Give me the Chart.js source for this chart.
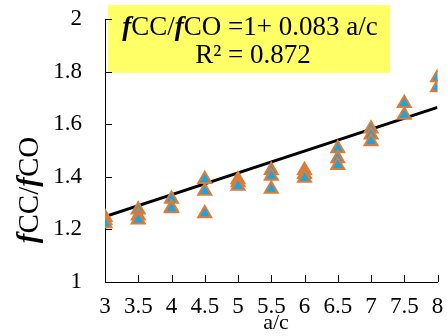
<!DOCTYPE html>
<html>
<head>
<meta charset="utf-8">
<script src="https://cdn.jsdelivr.net/npm/chart.js@4"></script>
<style>
  html, body { margin: 0; padding: 0; background: #fff; }
  #wrap { width: 447px; height: 336px; position: relative; }
</style>
</head>
<body>
<div id="wrap"><canvas id="scatterChart"></canvas></div>
<script>
//fCC/fCO vs a/c scatter with linear trend

// measured points (a/c, fCC/fCO)
const acValues = [
  3, 3, 3,
  3.5, 3.5, 3.5,
  4, 4, 4,
  4.5, 4.5, 4.5,
  5, 5, 5,
  5.5, 5.5, 5.5,
  6, 6, 6,
  6.5, 6.5, 6.5,
  7, 7, 7,
  7.5, 7.5,
  8, 8,
];
const ratioValues = [
  1.246, 1.234, 1.222,
  1.275, 1.252, 1.237,
  1.316, 1.283, 1.279,
  1.391, 1.346, 1.26,
  1.39, 1.378, 1.365,
  1.425, 1.403, 1.354,
  1.425, 1.41, 1.395,
  1.508, 1.47, 1.444,
  1.583, 1.56, 1.534,
  1.68, 1.635,
  1.778, 1.74,
];

// trend line end points
const trendX = [3, 8];
const trendY = [1.249, 1.664];

const xTicks = [3, 3.5, 4, 4.5, 5, 5.5, 6, 6.5, 7, 7.5, 8];
const yTicks = [1, 1.2, 1.4, 1.6, 1.8, 2];

const serif = "Liberation Serif";

// points for chart.js
const points = acValues.map((x, i) => ({ x: x, y: ratioValues[i] }));
const trend = trendX.map((x, i) => ({ x: x, y: trendY[i] }));

// writes "fCC/fCO" with bold italic f
function drawRatioText(ctx, x, y, size, rest) {
  const parts = [
    { t: "f", f: "italic bold " + size + "px " + serif },
    { t: "CC/", f: size + "px " + serif },
    { t: "f", f: "italic bold " + size + "px " + serif },
    { t: "CO" + rest, f: size + "px " + serif },
  ];
  let total = 0;
  parts.forEach((p) => {
    ctx.font = p.f;
    p.w = ctx.measureText(p.t).width;
    total += p.w;
  });
  let cx = x - total / 2;
  ctx.textAlign = "left";
  parts.forEach((p) => {
    ctx.font = p.f;
    ctx.fillText(p.t, cx, y);
    cx += p.w;
  });
}

const extras = {
  id: "extras",
  beforeDatasetsDraw(chart) {
    const ctx = chart.ctx;
    ctx.save();
    // equation box
    ctx.fillStyle = "#FFFF66";
    ctx.fillRect(108, 5, 282, 68);
    ctx.fillStyle = "#000";
    ctx.textBaseline = "middle";
    drawRatioText(ctx, 250, 28, 27, " =1+ 0.083 a/c");
    ctx.font = "27px " + serif;
    ctx.textAlign = "center";
    ctx.fillText("R\u00B2 = 0.872", 253, 56);
    ctx.restore();
  },
  afterDraw(chart) {
    const ctx = chart.ctx;
    const xs = chart.scales.x;
    const ys = chart.scales.y;
    ctx.save();
    // inward tick marks
    ctx.strokeStyle = "#000";
    ctx.lineWidth = 1;
    ctx.beginPath();
    xs.ticks.forEach((t) => {
      const px = Math.round(xs.getPixelForValue(t.value)) + 0.5;
      ctx.moveTo(px, ys.bottom);
      ctx.lineTo(px, ys.bottom - 7);
    });
    ys.ticks.forEach((t) => {
      const py = Math.round(ys.getPixelForValue(t.value)) + 0.5;
      ctx.moveTo(xs.left, py);
      ctx.lineTo(xs.left + 7, py);
    });
    ctx.stroke();
    // axis titles
    ctx.fillStyle = "#000";
    ctx.textBaseline = "middle";
    ctx.font = "22px " + serif;
    ctx.textAlign = "center";
    ctx.fillText("a/c", 276, 323);
    ctx.translate(30, 190);
    ctx.rotate(-Math.PI / 2);
    drawRatioText(ctx, 0, 0, 29, "");
    ctx.restore();
  },
};

const data = {
  datasets: [
    {
      type: "line",
      label: "Trend",
      data: trend,
      borderColor: "#000",
      borderWidth: 3,
      pointRadius: 0,
      fill: false,
      order: 2,
    },
    {
      type: "scatter",
      label: "fCC/fCO",
      data: points,
      pointStyle: "triangle",
      pointRadius: 7.5,
      backgroundColor: "#17A6E2",
      borderColor: "#E07B36",
      borderWidth: 2,
      order: 1,
    },
  ],
};

const config = {
  type: "scatter",
  data: data,
  options: {
    responsive: true,
    maintainAspectRatio: false,
    animation: false,
    layout: {
      padding: { top: 0, right: 0, left: 0, bottom: 0 },
    },
    scales: {
      x: {
        type: "linear",
        min: 3,
        max: 8,
        afterFit: (scale) => { scale.height = 54; scale.paddingRight = 6; },
        afterBuildTicks: (scale) => {
          scale.ticks = xTicks.map((v) => ({ value: v }));
        },
        ticks: {
          color: "#000",
          font: { family: serif, size: 23 },
          padding: 11,
          maxRotation: 0,
          autoSkip: false,
          callback: (v) => String(v),
        },
        grid: { display: false, drawTicks: false },
        border: { display: true, color: "#000", width: 1 },
      },
      y: {
        min: 1,
        max: 2,
        afterFit: (scale) => { scale.width = 105; scale.paddingTop = 19; },
        afterBuildTicks: (scale) => {
          scale.ticks = yTicks.map((v) => ({ value: v }));
        },
        ticks: {
          color: "#000",
          font: { family: serif, size: 23 },
          padding: 23,
          autoSkip: false,
          callback: (v) => String(Number(v.toFixed(1))),
        },
        grid: { display: false, drawTicks: false },
        border: { display: true, color: "#000", width: 1 },
      },
    },
    plugins: {
      legend: { display: false },
      tooltip: { enabled: false },
    },
  },
  plugins: [extras],
};

const scatterChart = new Chart(
  document.getElementById("scatterChart").getContext("2d"),
  config
);
</script>
</body>
</html>
